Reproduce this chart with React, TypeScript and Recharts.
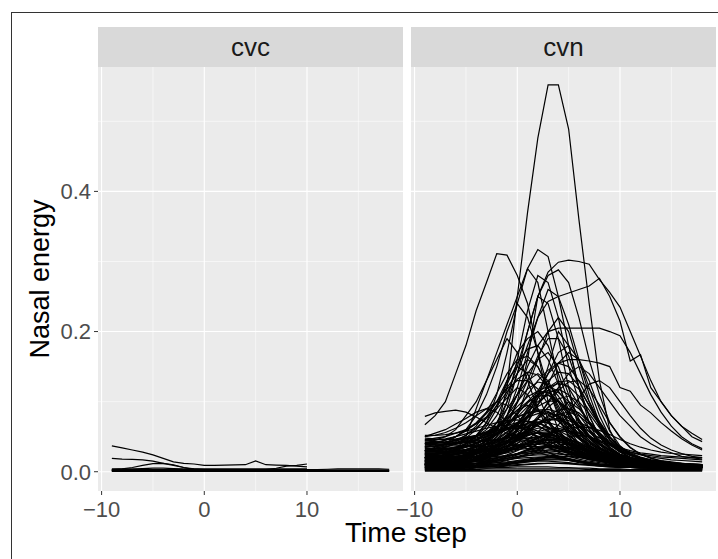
import { LineChart, Line, XAxis, YAxis, CartesianGrid } from 'recharts';

const steps = [-9, -8, -7, -6, -5, -4, -3, -2, -1, 0, 1, 2, 3, 4, 5, 6, 7, 8, 9, 10, 11, 12, 13, 14, 15, 16, 17, 18];
const xTicks = [-10, 0, 10];
const xMinor = [-5, 5, 15];
const yTicks = [0, 0.2, 0.4];
const yMinor = [0.1, 0.3, 0.5];
const panels = ['cvc', 'cvn'];

// cvc: a few lines stop at step 10
const cvcLines: (number | null)[][] = [
  [0.037, 0.034, 0.031, 0.028, 0.024, 0.019, 0.014, 0.012, 0.011, 0.009, 0.009, 0.0095, 0.0097, 0.01, 0.0155, 0.01, 0.0095, 0.009, 0.008, 0.007, null, null, null, null, null, null, null, null],
  [0.019, 0.018, 0.0175, 0.017, 0.015, 0.012, 0.009, 0.006, 0.004, 0.003, 0.003, 0.002, 0.002, 0.002, 0.002, 0.002, 0.002, 0.002, 0.002, 0.002, null, null, null, null, null, null, null, null],
  [0.003, 0.004, 0.006, 0.009, 0.0115, 0.012, 0.01, 0.006, 0.003, 0.002, 0.002, 0.002, 0.002, 0.002, 0.002, 0.002, 0.002, 0.002, 0.002, 0.002, null, null, null, null, null, null, null, null],
  [0.002, 0.002, 0.002, 0.002, 0.002, 0.002, 0.002, 0.002, 0.002, 0.002, 0.002, 0.002, 0.002, 0.002, 0.002, 0.003, 0.005, 0.008, 0.009, 0.011, null, null, null, null, null, null, null, null],
  [0.003, 0.003, 0.003, 0.003, 0.003, 0.003, 0.003, 0.003, 0.003, 0.003, 0.003, 0.003, 0.003, 0.003, 0.003, 0.003, 0.003, 0.003, 0.003, 0.003, 0.003, 0.0035, 0.004, 0.004, 0.004, 0.004, 0.004, 0.0035],
  [0.001, 0.001, 0.001, 0.001, 0.001, 0.001, 0.001, 0.001, 0.001, 0.001, 0.001, 0.001, 0.001, 0.001, 0.001, 0.001, 0.001, 0.001, 0.001, 0.001, 0.001, 0.001, 0.001, 0.001, 0.001, 0.001, 0.001, 0.001],
  [0.002, 0.002, 0.002, 0.002, 0.002, 0.002, 0.002, 0.002, 0.002, 0.002, 0.002, 0.002, 0.002, 0.002, 0.002, 0.002, 0.002, 0.002, 0.002, 0.002, 0.002, 0.002, 0.002, 0.002, 0.002, 0.002, 0.002, 0.002],
  [0.0005, 0.0005, 0.0005, 0.0005, 0.0005, 0.0005, 0.0005, 0.0005, 0.0005, 0.0005, 0.0005, 0.0005, 0.0005, 0.0005, 0.0005, 0.0005, 0.0005, 0.0005, 0.0005, 0.0005, 0.0005, 0.0005, 0.0005, 0.0005, 0.0005, 0.0005, 0.0005, 0.0005],
  [0.0015, 0.0015, 0.0015, 0.0015, 0.0015, 0.0015, 0.0015, 0.0015, 0.0015, 0.0015, 0.0015, 0.0015, 0.0015, 0.0015, 0.0015, 0.0015, 0.0015, 0.0015, 0.0015, 0.0015, 0.0015, 0.0015, 0.0015, 0.0015, 0.0015, 0.0015, 0.0015, 0.0015],
  [0.0025, 0.0025, 0.0025, 0.0025, 0.0025, 0.0025, 0.0025, 0.0025, 0.0025, 0.0025, 0.0025, 0.0025, 0.0025, 0.0025, 0.0025, 0.0025, 0.0025, 0.0025, 0.0025, 0.0025, 0.0025, 0.0025, 0.0025, 0.0025, 0.0025, 0.0025, 0.0025, 0.0025],
  [0.004, 0.004, 0.004, 0.0045, 0.005, 0.005, 0.0045, 0.004, 0.004, 0.004, 0.004, 0.004, 0.004, 0.004, 0.004, 0.004, 0.004, 0.004, 0.004, 0.004, null, null, null, null, null, null, null, null],
];

const cvnLines: number[][] = [
  [0.02, 0.02, 0.025, 0.025, 0.03, 0.035, 0.04, 0.06, 0.12, 0.25, 0.37, 0.476, 0.552, 0.552, 0.489, 0.36, 0.24, 0.13, 0.06, 0.03, 0.02, 0.015, 0.012, 0.01, 0.01, 0.008, 0.008, 0.006],
  [0.067, 0.08, 0.1, 0.14, 0.18, 0.23, 0.27, 0.311, 0.309, 0.28, 0.24, 0.17, 0.1, 0.06, 0.04, 0.03, 0.025, 0.02, 0.018, 0.015, 0.012, 0.01, 0.01, 0.008, 0.008, 0.007, 0.006, 0.006],
  [0.02, 0.02, 0.025, 0.03, 0.05, 0.09, 0.13, 0.17, 0.21, 0.25, 0.29, 0.317, 0.307, 0.25, 0.18, 0.12, 0.08, 0.05, 0.035, 0.025, 0.02, 0.018, 0.015, 0.012, 0.01, 0.01, 0.008, 0.008],
  [0.03, 0.03, 0.035, 0.04, 0.045, 0.05, 0.06, 0.08, 0.11, 0.15, 0.2, 0.25, 0.285, 0.299, 0.302, 0.3, 0.296, 0.274, 0.256, 0.235, 0.2, 0.165, 0.13, 0.1, 0.08, 0.065, 0.05, 0.043],
  [0.01, 0.012, 0.015, 0.02, 0.025, 0.03, 0.04, 0.06, 0.09, 0.14, 0.2, 0.25, 0.28, 0.288, 0.27, 0.22, 0.16, 0.11, 0.07, 0.05, 0.035, 0.025, 0.02, 0.015, 0.012, 0.01, 0.01, 0.008],
  [0.02, 0.02, 0.025, 0.03, 0.035, 0.04, 0.05, 0.07, 0.1, 0.14, 0.18, 0.22, 0.243, 0.25, 0.255, 0.26, 0.265, 0.276, 0.25, 0.215, 0.158, 0.167, 0.12, 0.1, 0.08, 0.065, 0.055, 0.046],
  [0.01, 0.012, 0.015, 0.02, 0.025, 0.03, 0.04, 0.06, 0.08, 0.11, 0.15, 0.18, 0.2, 0.205, 0.205, 0.205, 0.205, 0.205, 0.2, 0.194, 0.17, 0.14, 0.11, 0.085, 0.065, 0.05, 0.04, 0.033],
  [0.015, 0.015, 0.02, 0.02, 0.025, 0.03, 0.04, 0.06, 0.1, 0.16, 0.23, 0.28, 0.27, 0.22, 0.15, 0.1, 0.06, 0.04, 0.03, 0.02, 0.015, 0.012, 0.01, 0.01, 0.008, 0.008, 0.006, 0.006],
  [0.02, 0.02, 0.025, 0.03, 0.04, 0.05, 0.07, 0.11, 0.17, 0.24, 0.29, 0.27, 0.2, 0.13, 0.08, 0.05, 0.035, 0.025, 0.02, 0.015, 0.012, 0.01, 0.01, 0.008, 0.008, 0.007, 0.006, 0.006],
  [0.01, 0.01, 0.012, 0.015, 0.02, 0.025, 0.035, 0.05, 0.08, 0.12, 0.17, 0.22, 0.26, 0.25, 0.21, 0.16, 0.11, 0.07, 0.045, 0.03, 0.02, 0.015, 0.012, 0.01, 0.01, 0.008, 0.007, 0.006],
  [0.03, 0.035, 0.04, 0.05, 0.06, 0.08, 0.11, 0.15, 0.2, 0.24, 0.22, 0.17, 0.12, 0.08, 0.05, 0.035, 0.025, 0.02, 0.015, 0.012, 0.01, 0.01, 0.008, 0.008, 0.007, 0.006, 0.006, 0.005],
  [0.008, 0.008, 0.01, 0.012, 0.015, 0.02, 0.025, 0.035, 0.05, 0.08, 0.12, 0.16, 0.2, 0.22, 0.2, 0.15, 0.1, 0.065, 0.04, 0.028, 0.02, 0.015, 0.012, 0.01, 0.01, 0.008, 0.008, 0.007],
  [0.025, 0.025, 0.03, 0.035, 0.04, 0.05, 0.065, 0.09, 0.13, 0.17, 0.19, 0.2, 0.18, 0.14, 0.1, 0.07, 0.05, 0.035, 0.025, 0.02, 0.015, 0.012, 0.01, 0.01, 0.008, 0.008, 0.007, 0.007],
  [0.04, 0.045, 0.05, 0.06, 0.08, 0.1, 0.13, 0.16, 0.19, 0.17, 0.13, 0.09, 0.06, 0.04, 0.03, 0.022, 0.018, 0.015, 0.012, 0.01, 0.01, 0.008, 0.008, 0.007, 0.007, 0.006, 0.006, 0.005],
  [0.01, 0.01, 0.012, 0.012, 0.015, 0.018, 0.022, 0.03, 0.04, 0.06, 0.08, 0.11, 0.14, 0.17, 0.18, 0.16, 0.12, 0.08, 0.05, 0.035, 0.025, 0.02, 0.015, 0.012, 0.01, 0.01, 0.008, 0.008],
  [0.02, 0.02, 0.022, 0.025, 0.03, 0.035, 0.045, 0.06, 0.08, 0.11, 0.14, 0.16, 0.17, 0.15, 0.11, 0.075, 0.05, 0.035, 0.025, 0.02, 0.015, 0.012, 0.01, 0.01, 0.009, 0.008, 0.007, 0.007],
  [0.035, 0.04, 0.045, 0.05, 0.06, 0.07, 0.085, 0.1, 0.12, 0.14, 0.16, 0.15, 0.12, 0.09, 0.06, 0.04, 0.03, 0.022, 0.018, 0.015, 0.012, 0.01, 0.01, 0.009, 0.008, 0.008, 0.007, 0.007],
  [0.01, 0.01, 0.01, 0.012, 0.014, 0.016, 0.02, 0.025, 0.03, 0.04, 0.055, 0.075, 0.1, 0.12, 0.14, 0.15, 0.14, 0.12, 0.1, 0.08, 0.065, 0.05, 0.04, 0.032, 0.027, 0.022, 0.02, 0.018],
  [0.028, 0.03, 0.032, 0.035, 0.04, 0.045, 0.055, 0.07, 0.09, 0.11, 0.13, 0.14, 0.13, 0.1, 0.07, 0.05, 0.035, 0.025, 0.02, 0.016, 0.013, 0.011, 0.01, 0.009, 0.008, 0.008, 0.007, 0.006],
  [0.015, 0.016, 0.018, 0.02, 0.022, 0.025, 0.03, 0.038, 0.05, 0.065, 0.085, 0.105, 0.12, 0.13, 0.12, 0.095, 0.07, 0.05, 0.035, 0.025, 0.02, 0.016, 0.013, 0.011, 0.01, 0.009, 0.008, 0.008],
  [0.045, 0.048, 0.05, 0.055, 0.06, 0.068, 0.078, 0.09, 0.105, 0.12, 0.11, 0.09, 0.07, 0.05, 0.035, 0.028, 0.022, 0.018, 0.015, 0.013, 0.011, 0.01, 0.009, 0.008, 0.008, 0.007, 0.007, 0.006],
  [0.02, 0.02, 0.022, 0.024, 0.027, 0.03, 0.036, 0.045, 0.056, 0.07, 0.085, 0.1, 0.11, 0.1, 0.08, 0.06, 0.045, 0.033, 0.025, 0.02, 0.016, 0.013, 0.011, 0.01, 0.009, 0.008, 0.008, 0.007],
  [0.012, 0.012, 0.013, 0.014, 0.016, 0.018, 0.021, 0.025, 0.03, 0.037, 0.046, 0.057, 0.07, 0.085, 0.1, 0.09, 0.072, 0.055, 0.04, 0.03, 0.024, 0.019, 0.016, 0.014, 0.012, 0.011, 0.01, 0.009],
  [0.03, 0.03, 0.032, 0.035, 0.04, 0.046, 0.054, 0.064, 0.076, 0.088, 0.095, 0.088, 0.072, 0.055, 0.04, 0.03, 0.023, 0.018, 0.015, 0.013, 0.011, 0.01, 0.009, 0.008, 0.008, 0.007, 0.006, 0.006],
  [0.05, 0.055, 0.06, 0.068, 0.076, 0.085, 0.09, 0.085, 0.072, 0.058, 0.045, 0.035, 0.028, 0.022, 0.018, 0.015, 0.013, 0.011, 0.01, 0.009, 0.008, 0.008, 0.007, 0.007, 0.006, 0.006, 0.005, 0.005],
  [0.01, 0.011, 0.012, 0.014, 0.017, 0.021, 0.026, 0.033, 0.042, 0.053, 0.065, 0.076, 0.085, 0.08, 0.066, 0.05, 0.037, 0.028, 0.021, 0.017, 0.014, 0.012, 0.01, 0.009, 0.008, 0.008, 0.007, 0.007],
  [0.079, 0.084, 0.086, 0.088, 0.085, 0.078, 0.07, 0.062, 0.055, 0.05, 0.046, 0.042, 0.038, 0.033, 0.028, 0.024, 0.02, 0.017, 0.015, 0.013, 0.012, 0.011, 0.01, 0.009, 0.009, 0.008, 0.008, 0.007],
  [0.02, 0.021, 0.022, 0.024, 0.027, 0.03, 0.035, 0.042, 0.05, 0.06, 0.069, 0.075, 0.07, 0.058, 0.045, 0.034, 0.026, 0.02, 0.016, 0.013, 0.011, 0.01, 0.009, 0.008, 0.008, 0.007, 0.007, 0.006],
  [0.008, 0.008, 0.009, 0.01, 0.011, 0.012, 0.014, 0.017, 0.021, 0.026, 0.032, 0.04, 0.048, 0.057, 0.065, 0.07, 0.064, 0.052, 0.04, 0.03, 0.024, 0.02, 0.017, 0.015, 0.013, 0.012, 0.011, 0.01],
  [0.04, 0.041, 0.042, 0.044, 0.047, 0.051, 0.055, 0.059, 0.063, 0.065, 0.062, 0.055, 0.046, 0.037, 0.03, 0.024, 0.02, 0.017, 0.015, 0.013, 0.012, 0.011, 0.01, 0.009, 0.009, 0.008, 0.008, 0.007],
  [0.015, 0.015, 0.016, 0.017, 0.019, 0.021, 0.024, 0.028, 0.032, 0.037, 0.043, 0.049, 0.055, 0.06, 0.056, 0.047, 0.037, 0.029, 0.023, 0.019, 0.016, 0.014, 0.012, 0.011, 0.01, 0.009, 0.009, 0.008],
  [0.025, 0.026, 0.027, 0.029, 0.032, 0.035, 0.039, 0.043, 0.048, 0.052, 0.055, 0.051, 0.044, 0.036, 0.029, 0.023, 0.019, 0.016, 0.014, 0.012, 0.011, 0.01, 0.009, 0.008, 0.008, 0.007, 0.007, 0.006],
  [0.005, 0.006, 0.007, 0.008, 0.01, 0.012, 0.015, 0.019, 0.024, 0.03, 0.037, 0.044, 0.05, 0.047, 0.039, 0.031, 0.024, 0.018, 0.014, 0.011, 0.009, 0.008, 0.007, 0.006, 0.006, 0.005, 0.005, 0.005],
  [0.032, 0.034, 0.036, 0.039, 0.042, 0.044, 0.045, 0.045, 0.042, 0.038, 0.033, 0.028, 0.023, 0.019, 0.016, 0.013, 0.011, 0.01, 0.009, 0.008, 0.007, 0.007, 0.006, 0.006, 0.005, 0.005, 0.005, 0.004],
  [0.01, 0.01, 0.011, 0.012, 0.013, 0.015, 0.017, 0.019, 0.022, 0.025, 0.028, 0.031, 0.035, 0.038, 0.04, 0.037, 0.031, 0.025, 0.02, 0.016, 0.013, 0.011, 0.01, 0.009, 0.008, 0.008, 0.007, 0.007],
  [0.018, 0.019, 0.02, 0.022, 0.024, 0.027, 0.03, 0.033, 0.036, 0.038, 0.036, 0.032, 0.027, 0.022, 0.018, 0.015, 0.012, 0.01, 0.009, 0.008, 0.007, 0.006, 0.006, 0.005, 0.005, 0.005, 0.004, 0.004],
  [0.028, 0.028, 0.027, 0.027, 0.027, 0.028, 0.029, 0.03, 0.031, 0.032, 0.033, 0.034, 0.035, 0.033, 0.03, 0.026, 0.022, 0.019, 0.016, 0.014, 0.013, 0.012, 0.011, 0.011, 0.01, 0.01, 0.01, 0.009],
  [0.022, 0.022, 0.021, 0.021, 0.02, 0.02, 0.021, 0.022, 0.023, 0.025, 0.026, 0.027, 0.027, 0.026, 0.024, 0.021, 0.018, 0.016, 0.014, 0.013, 0.012, 0.012, 0.011, 0.011, 0.011, 0.01, 0.01, 0.01],
  [0.015, 0.015, 0.014, 0.014, 0.014, 0.015, 0.016, 0.017, 0.019, 0.021, 0.023, 0.024, 0.024, 0.022, 0.019, 0.016, 0.013, 0.011, 0.009, 0.008, 0.007, 0.006, 0.006, 0.005, 0.005, 0.005, 0.005, 0.004],
  [0.008, 0.008, 0.008, 0.008, 0.009, 0.009, 0.01, 0.011, 0.012, 0.013, 0.014, 0.015, 0.015, 0.014, 0.013, 0.011, 0.01, 0.008, 0.007, 0.006, 0.006, 0.005, 0.005, 0.004, 0.004, 0.004, 0.004, 0.004],
  [0.004, 0.004, 0.004, 0.004, 0.004, 0.005, 0.005, 0.006, 0.006, 0.007, 0.007, 0.007, 0.007, 0.006, 0.006, 0.005, 0.005, 0.004, 0.004, 0.004, 0.003, 0.003, 0.003, 0.003, 0.003, 0.003, 0.003, 0.003],
  [0.002, 0.002, 0.002, 0.002, 0.002, 0.002, 0.002, 0.002, 0.002, 0.002, 0.002, 0.002, 0.002, 0.002, 0.002, 0.002, 0.002, 0.002, 0.002, 0.002, 0.002, 0.002, 0.002, 0.002, 0.002, 0.002, 0.002, 0.002],
  [0.035, 0.036, 0.038, 0.04, 0.043, 0.046, 0.05, 0.056, 0.062, 0.068, 0.072, 0.07, 0.062, 0.052, 0.042, 0.034, 0.027, 0.022, 0.018, 0.015, 0.013, 0.012, 0.011, 0.01, 0.009, 0.009, 0.008, 0.008],
  [0.012, 0.012, 0.013, 0.015, 0.018, 0.022, 0.028, 0.036, 0.047, 0.061, 0.078, 0.096, 0.112, 0.118, 0.11, 0.092, 0.07, 0.052, 0.038, 0.028, 0.021, 0.017, 0.014, 0.012, 0.011, 0.01, 0.009, 0.009],
  [0.01, 0.01, 0.011, 0.012, 0.014, 0.016, 0.02, 0.025, 0.034, 0.048, 0.07, 0.105, 0.15, 0.2, 0.18, 0.12, 0.07, 0.04, 0.025, 0.018, 0.014, 0.012, 0.01, 0.009, 0.008, 0.008, 0.007, 0.007],
  [0.03, 0.032, 0.035, 0.04, 0.048, 0.06, 0.078, 0.1, 0.13, 0.15, 0.14, 0.11, 0.075, 0.05, 0.035, 0.026, 0.02, 0.016, 0.013, 0.011, 0.01, 0.009, 0.008, 0.008, 0.007, 0.007, 0.006, 0.006],
  [0.012, 0.012, 0.014, 0.016, 0.02, 0.025, 0.033, 0.045, 0.065, 0.1, 0.16, 0.25, 0.24, 0.19, 0.12, 0.06, 0.03, 0.02, 0.015, 0.012, 0.01, 0.009, 0.008, 0.008, 0.007, 0.007, 0.006, 0.006],
  [0.006, 0.006, 0.007, 0.008, 0.009, 0.01, 0.012, 0.015, 0.019, 0.024, 0.031, 0.04, 0.052, 0.067, 0.085, 0.105, 0.125, 0.13, 0.12, 0.1, 0.08, 0.062, 0.048, 0.038, 0.031, 0.026, 0.022, 0.02],
  [0.015, 0.015, 0.017, 0.02, 0.024, 0.03, 0.038, 0.05, 0.065, 0.085, 0.11, 0.13, 0.145, 0.155, 0.16, 0.16, 0.158, 0.155, 0.15, 0.12, 0.115, 0.095, 0.084, 0.07, 0.058, 0.047, 0.038, 0.031],
  [0.05, 0.052, 0.056, 0.062, 0.07, 0.08, 0.09, 0.1, 0.095, 0.08, 0.062, 0.047, 0.036, 0.028, 0.022, 0.018, 0.015, 0.013, 0.011, 0.01, 0.009, 0.008, 0.008, 0.007, 0.007, 0.006, 0.006, 0.006],
  [0.025, 0.025, 0.026, 0.028, 0.031, 0.036, 0.043, 0.053, 0.066, 0.082, 0.1, 0.115, 0.122, 0.115, 0.095, 0.072, 0.052, 0.038, 0.028, 0.022, 0.018, 0.015, 0.013, 0.012, 0.011, 0.01, 0.009, 0.009],
  [0.012, 0.012, 0.011, 0.011, 0.011, 0.012, 0.013, 0.015, 0.017, 0.019, 0.02, 0.021, 0.021, 0.02, 0.018, 0.015, 0.013, 0.011, 0.01, 0.009, 0.008, 0.008, 0.007, 0.007, 0.007, 0.006, 0.006, 0.006],
  [0.006, 0.006, 0.006, 0.007, 0.007, 0.008, 0.009, 0.01, 0.011, 0.013, 0.016, 0.018, 0.02, 0.019, 0.017, 0.014, 0.012, 0.01, 0.008, 0.007, 0.006, 0.006, 0.005, 0.005, 0.005, 0.004, 0.004, 0.004],
  [0.018, 0.018, 0.018, 0.019, 0.02, 0.022, 0.025, 0.028, 0.031, 0.034, 0.036, 0.036, 0.034, 0.03, 0.026, 0.022, 0.018, 0.015, 0.013, 0.011, 0.01, 0.009, 0.008, 0.008, 0.007, 0.007, 0.007, 0.006],
  [0.003, 0.003, 0.003, 0.003, 0.003, 0.003, 0.004, 0.004, 0.004, 0.004, 0.004, 0.004, 0.004, 0.004, 0.004, 0.004, 0.003, 0.003, 0.003, 0.003, 0.002, 0.002, 0.002, 0.002, 0.002, 0.002, 0.002, 0.002],
  [0.001, 0.001, 0.001, 0.001, 0.001, 0.001, 0.001, 0.001, 0.001, 0.001, 0.001, 0.001, 0.001, 0.001, 0.001, 0.001, 0.001, 0.001, 0.001, 0.001, 0.001, 0.001, 0.001, 0.001, 0.001, 0.001, 0.001, 0.001],
  [0.042, 0.042, 0.043, 0.045, 0.048, 0.052, 0.057, 0.063, 0.07, 0.078, 0.084, 0.086, 0.082, 0.072, 0.06, 0.048, 0.038, 0.03, 0.024, 0.02, 0.017, 0.015, 0.013, 0.012, 0.011, 0.01, 0.01, 0.009],
  [0.009, 0.009, 0.01, 0.011, 0.013, 0.016, 0.02, 0.026, 0.034, 0.044, 0.056, 0.068, 0.078, 0.082, 0.078, 0.066, 0.052, 0.04, 0.03, 0.023, 0.018, 0.015, 0.013, 0.011, 0.01, 0.009, 0.009, 0.008],
  [0.048, 0.047, 0.046, 0.046, 0.047, 0.05, 0.054, 0.058, 0.061, 0.062, 0.06, 0.055, 0.048, 0.04, 0.033, 0.027, 0.022, 0.018, 0.015, 0.013, 0.012, 0.011, 0.01, 0.01, 0.009, 0.009, 0.008, 0.008],
  [0.038, 0.038, 0.039, 0.041, 0.044, 0.048, 0.053, 0.058, 0.062, 0.064, 0.063, 0.058, 0.05, 0.041, 0.033, 0.026, 0.021, 0.017, 0.014, 0.012, 0.011, 0.01, 0.009, 0.009, 0.008, 0.008, 0.008, 0.007],
  [0.026, 0.027, 0.029, 0.032, 0.036, 0.041, 0.047, 0.054, 0.06, 0.065, 0.067, 0.065, 0.058, 0.048, 0.038, 0.03, 0.024, 0.019, 0.016, 0.014, 0.012, 0.011, 0.01, 0.009, 0.009, 0.008, 0.008, 0.007],
  [0.016, 0.017, 0.018, 0.02, 0.023, 0.027, 0.032, 0.038, 0.045, 0.052, 0.058, 0.062, 0.063, 0.059, 0.051, 0.042, 0.033, 0.026, 0.021, 0.017, 0.014, 0.012, 0.011, 0.01, 0.009, 0.008, 0.008, 0.007],
  [0.011, 0.011, 0.012, 0.013, 0.015, 0.017, 0.02, 0.024, 0.029, 0.034, 0.039, 0.043, 0.046, 0.047, 0.045, 0.04, 0.034, 0.028, 0.023, 0.019, 0.016, 0.014, 0.012, 0.011, 0.01, 0.01, 0.009, 0.009],
  [0.033, 0.033, 0.033, 0.034, 0.035, 0.037, 0.039, 0.041, 0.043, 0.044, 0.044, 0.042, 0.038, 0.033, 0.028, 0.023, 0.019, 0.016, 0.014, 0.012, 0.011, 0.01, 0.009, 0.009, 0.008, 0.008, 0.008, 0.007],
  [0.044, 0.045, 0.047, 0.05, 0.054, 0.058, 0.062, 0.065, 0.066, 0.064, 0.058, 0.05, 0.041, 0.033, 0.026, 0.021, 0.017, 0.015, 0.013, 0.012, 0.011, 0.01, 0.009, 0.009, 0.008, 0.008, 0.007, 0.007],
  [0.02, 0.02, 0.021, 0.022, 0.024, 0.027, 0.031, 0.036, 0.042, 0.049, 0.057, 0.066, 0.075, 0.082, 0.085, 0.08, 0.068, 0.054, 0.041, 0.031, 0.024, 0.019, 0.016, 0.014, 0.012, 0.011, 0.01, 0.01],
  [0.007, 0.007, 0.008, 0.009, 0.01, 0.012, 0.014, 0.017, 0.021, 0.026, 0.031, 0.035, 0.037, 0.036, 0.032, 0.027, 0.022, 0.018, 0.015, 0.013, 0.011, 0.01, 0.009, 0.008, 0.008, 0.007, 0.007, 0.006],
  [0.03, 0.03, 0.031, 0.033, 0.036, 0.04, 0.046, 0.053, 0.061, 0.07, 0.078, 0.083, 0.084, 0.079, 0.068, 0.055, 0.042, 0.032, 0.025, 0.02, 0.017, 0.015, 0.013, 0.012, 0.011, 0.011, 0.01, 0.01],
  [0.013, 0.013, 0.013, 0.014, 0.015, 0.016, 0.018, 0.02, 0.022, 0.025, 0.028, 0.03, 0.031, 0.03, 0.028, 0.025, 0.021, 0.018, 0.015, 0.013, 0.012, 0.011, 0.01, 0.009, 0.009, 0.008, 0.008, 0.008],
  [0.024, 0.024, 0.024, 0.025, 0.026, 0.028, 0.031, 0.035, 0.04, 0.046, 0.052, 0.056, 0.057, 0.054, 0.047, 0.039, 0.031, 0.025, 0.02, 0.017, 0.015, 0.013, 0.012, 0.011, 0.01, 0.01, 0.009, 0.009],
  [0.005, 0.005, 0.005, 0.006, 0.006, 0.007, 0.008, 0.009, 0.011, 0.013, 0.015, 0.017, 0.018, 0.018, 0.017, 0.015, 0.013, 0.011, 0.01, 0.009, 0.008, 0.007, 0.007, 0.006, 0.006, 0.006, 0.005, 0.005],
  [0.036, 0.037, 0.039, 0.042, 0.046, 0.051, 0.057, 0.064, 0.071, 0.078, 0.084, 0.088, 0.089, 0.085, 0.076, 0.064, 0.051, 0.04, 0.031, 0.024, 0.019, 0.016, 0.014, 0.012, 0.011, 0.01, 0.01, 0.009],
  [0.017, 0.017, 0.018, 0.019, 0.021, 0.023, 0.026, 0.029, 0.033, 0.037, 0.041, 0.044, 0.045, 0.043, 0.039, 0.033, 0.027, 0.022, 0.018, 0.015, 0.013, 0.012, 0.011, 0.01, 0.009, 0.009, 0.008, 0.008],
  [0.009, 0.009, 0.009, 0.01, 0.01, 0.011, 0.012, 0.013, 0.014, 0.016, 0.018, 0.02, 0.022, 0.024, 0.025, 0.024, 0.021, 0.018, 0.015, 0.013, 0.011, 0.01, 0.009, 0.008, 0.008, 0.007, 0.007, 0.007],
  [0.028, 0.029, 0.031, 0.034, 0.038, 0.044, 0.052, 0.062, 0.074, 0.088, 0.1, 0.108, 0.109, 0.1, 0.084, 0.065, 0.048, 0.035, 0.026, 0.02, 0.016, 0.014, 0.012, 0.011, 0.01, 0.009, 0.009, 0.008],
  [0.014, 0.014, 0.015, 0.016, 0.018, 0.021, 0.025, 0.03, 0.037, 0.046, 0.057, 0.069, 0.08, 0.088, 0.09, 0.084, 0.071, 0.056, 0.042, 0.031, 0.024, 0.019, 0.016, 0.014, 0.012, 0.011, 0.01, 0.01],
  [0.052, 0.052, 0.053, 0.055, 0.058, 0.062, 0.066, 0.07, 0.073, 0.074, 0.072, 0.066, 0.057, 0.047, 0.038, 0.03, 0.024, 0.02, 0.017, 0.015, 0.013, 0.012, 0.011, 0.01, 0.01, 0.009, 0.009, 0.008],
  [0.004, 0.004, 0.004, 0.005, 0.005, 0.006, 0.007, 0.008, 0.009, 0.01, 0.011, 0.012, 0.012, 0.012, 0.011, 0.01, 0.009, 0.008, 0.007, 0.006, 0.006, 0.005, 0.005, 0.005, 0.004, 0.004, 0.004, 0.004],
  [0.02, 0.021, 0.023, 0.026, 0.03, 0.036, 0.044, 0.055, 0.068, 0.083, 0.098, 0.11, 0.116, 0.113, 0.1, 0.081, 0.061, 0.045, 0.033, 0.025, 0.02, 0.016, 0.014, 0.012, 0.011, 0.01, 0.01, 0.009],
  [0.01, 0.01, 0.011, 0.012, 0.014, 0.017, 0.021, 0.027, 0.035, 0.046, 0.06, 0.076, 0.092, 0.104, 0.108, 0.1, 0.083, 0.063, 0.046, 0.033, 0.025, 0.019, 0.016, 0.013, 0.012, 0.011, 0.01, 0.009],
  [0.023, 0.023, 0.024, 0.026, 0.029, 0.033, 0.039, 0.047, 0.057, 0.069, 0.08, 0.087, 0.086, 0.077, 0.063, 0.049, 0.037, 0.028, 0.022, 0.018, 0.015, 0.013, 0.012, 0.011, 0.01, 0.009, 0.009, 0.008],
  [0.006, 0.006, 0.006, 0.007, 0.007, 0.008, 0.009, 0.01, 0.012, 0.014, 0.016, 0.018, 0.02, 0.021, 0.022, 0.021, 0.019, 0.017, 0.015, 0.013, 0.012, 0.011, 0.01, 0.01, 0.009, 0.009, 0.009, 0.009],
  [0.031, 0.031, 0.032, 0.034, 0.037, 0.041, 0.047, 0.055, 0.065, 0.078, 0.093, 0.108, 0.12, 0.126, 0.122, 0.108, 0.088, 0.067, 0.049, 0.036, 0.027, 0.021, 0.017, 0.015, 0.013, 0.012, 0.011, 0.01],
  [0.015, 0.016, 0.018, 0.021, 0.025, 0.031, 0.04, 0.053, 0.072, 0.098, 0.13, 0.165, 0.19, 0.19, 0.165, 0.12, 0.08, 0.05, 0.032, 0.022, 0.017, 0.014, 0.012, 0.01, 0.009, 0.009, 0.008, 0.008],
  [0.022, 0.024, 0.027, 0.032, 0.04, 0.052, 0.07, 0.095, 0.125, 0.155, 0.175, 0.18, 0.16, 0.125, 0.088, 0.058, 0.038, 0.026, 0.019, 0.015, 0.012, 0.011, 0.01, 0.009, 0.008, 0.008, 0.007, 0.007],
  [0.008, 0.008, 0.009, 0.01, 0.012, 0.015, 0.019, 0.025, 0.035, 0.05, 0.07, 0.095, 0.125, 0.155, 0.17, 0.16, 0.13, 0.09, 0.058, 0.037, 0.025, 0.018, 0.014, 0.012, 0.01, 0.009, 0.009, 0.008],
  [0.03, 0.033, 0.037, 0.043, 0.052, 0.065, 0.085, 0.112, 0.14, 0.16, 0.165, 0.15, 0.12, 0.085, 0.056, 0.037, 0.026, 0.019, 0.015, 0.013, 0.011, 0.01, 0.009, 0.009, 0.008, 0.008, 0.007, 0.007],
  [0.012, 0.012, 0.013, 0.015, 0.018, 0.022, 0.028, 0.037, 0.05, 0.068, 0.09, 0.115, 0.14, 0.155, 0.15, 0.13, 0.1, 0.072, 0.05, 0.035, 0.026, 0.02, 0.016, 0.014, 0.012, 0.011, 0.01, 0.01],
  [0.044, 0.043, 0.042, 0.041, 0.041, 0.042, 0.044, 0.046, 0.048, 0.049, 0.048, 0.045, 0.04, 0.034, 0.028, 0.023, 0.019, 0.016, 0.014, 0.013, 0.012, 0.011, 0.011, 0.01, 0.01, 0.009, 0.009, 0.009],
  [0.037, 0.036, 0.035, 0.035, 0.036, 0.038, 0.041, 0.045, 0.05, 0.054, 0.056, 0.055, 0.051, 0.044, 0.036, 0.029, 0.023, 0.019, 0.016, 0.014, 0.013, 0.012, 0.011, 0.01, 0.01, 0.009, 0.009, 0.008],
  [0.03, 0.029, 0.029, 0.029, 0.03, 0.032, 0.035, 0.039, 0.044, 0.049, 0.053, 0.055, 0.054, 0.049, 0.041, 0.033, 0.026, 0.021, 0.017, 0.015, 0.013, 0.012, 0.011, 0.01, 0.009, 0.009, 0.008, 0.008],
  [0.026, 0.026, 0.026, 0.027, 0.028, 0.03, 0.033, 0.037, 0.041, 0.045, 0.048, 0.05, 0.05, 0.047, 0.042, 0.035, 0.028, 0.022, 0.018, 0.015, 0.013, 0.011, 0.01, 0.009, 0.009, 0.008, 0.008, 0.007],
  [0.021, 0.021, 0.021, 0.022, 0.023, 0.025, 0.028, 0.032, 0.036, 0.041, 0.046, 0.05, 0.052, 0.051, 0.047, 0.04, 0.033, 0.026, 0.021, 0.017, 0.014, 0.012, 0.011, 0.01, 0.009, 0.009, 0.008, 0.008],
  [0.017, 0.017, 0.017, 0.018, 0.019, 0.021, 0.023, 0.026, 0.029, 0.033, 0.037, 0.04, 0.042, 0.042, 0.04, 0.036, 0.031, 0.026, 0.021, 0.017, 0.015, 0.013, 0.011, 0.01, 0.01, 0.009, 0.009, 0.008],
  [0.013, 0.013, 0.013, 0.014, 0.015, 0.016, 0.018, 0.02, 0.023, 0.026, 0.03, 0.033, 0.035, 0.036, 0.035, 0.032, 0.027, 0.022, 0.018, 0.015, 0.013, 0.011, 0.01, 0.009, 0.008, 0.008, 0.007, 0.007],
  [0.01, 0.01, 0.01, 0.011, 0.011, 0.012, 0.013, 0.015, 0.017, 0.02, 0.023, 0.026, 0.028, 0.029, 0.028, 0.026, 0.022, 0.019, 0.016, 0.013, 0.011, 0.01, 0.009, 0.008, 0.008, 0.007, 0.007, 0.007],
  [0.007, 0.007, 0.007, 0.008, 0.008, 0.009, 0.01, 0.011, 0.013, 0.015, 0.017, 0.019, 0.021, 0.022, 0.022, 0.02, 0.018, 0.015, 0.013, 0.011, 0.009, 0.008, 0.008, 0.007, 0.007, 0.006, 0.006, 0.006],
  [0.003, 0.003, 0.004, 0.004, 0.005, 0.006, 0.007, 0.008, 0.01, 0.012, 0.014, 0.016, 0.017, 0.017, 0.016, 0.014, 0.012, 0.01, 0.008, 0.007, 0.006, 0.005, 0.005, 0.004, 0.004, 0.004, 0.003, 0.003],
  [0.041, 0.04, 0.039, 0.038, 0.037, 0.036, 0.036, 0.036, 0.037, 0.038, 0.039, 0.039, 0.037, 0.034, 0.029, 0.024, 0.02, 0.017, 0.015, 0.014, 0.013, 0.012, 0.011, 0.011, 0.01, 0.01, 0.009, 0.009],
  [0.034, 0.033, 0.032, 0.031, 0.03, 0.03, 0.03, 0.031, 0.033, 0.036, 0.04, 0.044, 0.046, 0.045, 0.041, 0.035, 0.029, 0.024, 0.02, 0.017, 0.015, 0.014, 0.013, 0.012, 0.011, 0.011, 0.01, 0.01],
  [0.024, 0.023, 0.022, 0.021, 0.021, 0.021, 0.022, 0.024, 0.027, 0.031, 0.036, 0.041, 0.045, 0.047, 0.046, 0.042, 0.036, 0.03, 0.024, 0.02, 0.017, 0.015, 0.013, 0.012, 0.011, 0.01, 0.01, 0.009],
  [0.019, 0.019, 0.02, 0.021, 0.023, 0.026, 0.03, 0.035, 0.041, 0.047, 0.052, 0.055, 0.055, 0.051, 0.044, 0.036, 0.029, 0.023, 0.019, 0.016, 0.014, 0.012, 0.011, 0.01, 0.009, 0.009, 0.008, 0.008],
  [0.012, 0.012, 0.012, 0.013, 0.013, 0.014, 0.015, 0.017, 0.019, 0.022, 0.025, 0.028, 0.031, 0.033, 0.034, 0.033, 0.03, 0.026, 0.022, 0.018, 0.015, 0.013, 0.012, 0.011, 0.01, 0.009, 0.009, 0.009],
  [0.046, 0.046, 0.046, 0.047, 0.049, 0.052, 0.056, 0.061, 0.066, 0.07, 0.072, 0.07, 0.064, 0.055, 0.045, 0.036, 0.029, 0.023, 0.019, 0.016, 0.014, 0.013, 0.012, 0.011, 0.01, 0.01, 0.009, 0.009],
  [0.028, 0.028, 0.029, 0.03, 0.032, 0.035, 0.039, 0.044, 0.05, 0.057, 0.064, 0.07, 0.074, 0.074, 0.069, 0.06, 0.049, 0.039, 0.031, 0.025, 0.02, 0.017, 0.015, 0.013, 0.012, 0.011, 0.01, 0.01],
  [0.005, 0.005, 0.005, 0.005, 0.006, 0.006, 0.007, 0.007, 0.008, 0.009, 0.01, 0.011, 0.012, 0.012, 0.012, 0.011, 0.01, 0.009, 0.008, 0.007, 0.006, 0.006, 0.005, 0.005, 0.005, 0.005, 0.004, 0.004],
  [0.015, 0.015, 0.016, 0.017, 0.019, 0.022, 0.026, 0.031, 0.037, 0.044, 0.051, 0.057, 0.061, 0.062, 0.059, 0.052, 0.043, 0.034, 0.027, 0.021, 0.017, 0.014, 0.012, 0.011, 0.01, 0.009, 0.009, 0.008],
  [0.039, 0.039, 0.04, 0.041, 0.043, 0.046, 0.05, 0.055, 0.06, 0.065, 0.069, 0.071, 0.07, 0.066, 0.058, 0.049, 0.04, 0.032, 0.026, 0.021, 0.018, 0.016, 0.014, 0.013, 0.012, 0.011, 0.011, 0.01],
  [0.01, 0.01, 0.011, 0.012, 0.014, 0.016, 0.019, 0.023, 0.028, 0.034, 0.041, 0.048, 0.054, 0.058, 0.058, 0.055, 0.049, 0.043, 0.037, 0.032, 0.028, 0.025, 0.023, 0.021, 0.02, 0.019, 0.018, 0.017],
  [0.02, 0.02, 0.021, 0.022, 0.024, 0.027, 0.031, 0.036, 0.043, 0.051, 0.06, 0.068, 0.074, 0.076, 0.073, 0.066, 0.057, 0.048, 0.04, 0.034, 0.03, 0.027, 0.025, 0.023, 0.022, 0.021, 0.02, 0.02],
  [0.006, 0.006, 0.007, 0.007, 0.008, 0.009, 0.011, 0.013, 0.016, 0.02, 0.025, 0.031, 0.038, 0.045, 0.05, 0.052, 0.05, 0.045, 0.039, 0.033, 0.028, 0.024, 0.021, 0.019, 0.017, 0.016, 0.015, 0.014],
  [0.016, 0.016, 0.017, 0.018, 0.019, 0.021, 0.023, 0.026, 0.03, 0.035, 0.041, 0.047, 0.053, 0.058, 0.062, 0.064, 0.063, 0.059, 0.053, 0.046, 0.04, 0.035, 0.031, 0.028, 0.026, 0.025, 0.024, 0.023],
  [0.02, 0.021, 0.023, 0.026, 0.031, 0.038, 0.048, 0.062, 0.08, 0.1, 0.118, 0.128, 0.125, 0.108, 0.084, 0.06, 0.042, 0.03, 0.022, 0.017, 0.014, 0.012, 0.011, 0.01, 0.009, 0.009, 0.008, 0.008],
  [0.035, 0.037, 0.04, 0.045, 0.052, 0.062, 0.076, 0.094, 0.114, 0.132, 0.142, 0.138, 0.12, 0.094, 0.068, 0.047, 0.033, 0.024, 0.018, 0.015, 0.013, 0.011, 0.01, 0.009, 0.009, 0.008, 0.008, 0.007],
  [0.01, 0.01, 0.011, 0.013, 0.015, 0.019, 0.024, 0.032, 0.043, 0.058, 0.076, 0.096, 0.115, 0.128, 0.13, 0.118, 0.095, 0.07, 0.049, 0.034, 0.025, 0.019, 0.015, 0.013, 0.011, 0.01, 0.01, 0.009],
  [0.025, 0.026, 0.028, 0.031, 0.035, 0.041, 0.05, 0.062, 0.077, 0.093, 0.107, 0.115, 0.113, 0.102, 0.084, 0.065, 0.048, 0.035, 0.026, 0.02, 0.016, 0.014, 0.012, 0.011, 0.01, 0.009, 0.009, 0.008],
  [0.015, 0.015, 0.016, 0.018, 0.021, 0.025, 0.031, 0.04, 0.052, 0.068, 0.088, 0.11, 0.13, 0.142, 0.14, 0.122, 0.094, 0.066, 0.045, 0.031, 0.023, 0.018, 0.015, 0.013, 0.011, 0.01, 0.01, 0.009],
  [0.04, 0.042, 0.045, 0.05, 0.058, 0.069, 0.083, 0.1, 0.118, 0.13, 0.13, 0.118, 0.097, 0.074, 0.053, 0.038, 0.028, 0.021, 0.017, 0.014, 0.012, 0.011, 0.01, 0.009, 0.009, 0.008, 0.008, 0.007],
  [0.018, 0.018, 0.019, 0.021, 0.024, 0.028, 0.034, 0.042, 0.053, 0.066, 0.08, 0.093, 0.101, 0.1, 0.09, 0.074, 0.057, 0.042, 0.031, 0.023, 0.018, 0.015, 0.013, 0.011, 0.01, 0.01, 0.009, 0.009],
  [0.012, 0.012, 0.013, 0.014, 0.016, 0.019, 0.023, 0.029, 0.037, 0.048, 0.062, 0.079, 0.098, 0.116, 0.128, 0.13, 0.118, 0.095, 0.07, 0.049, 0.034, 0.025, 0.019, 0.016, 0.014, 0.012, 0.011, 0.01],
];

const FONT = '"Liberation Sans", Arial, Helvetica, sans-serif';
const X_DOMAIN = [-10.35, 19.35];
const Y_DOMAIN = [-0.0275, 0.5775];

function toRows(lines: (number | null)[][]) {
  return steps.map((t, i) => {
    const row: Record<string, number | null> = { t };
    lines.forEach((l, j) => {
      row['s' + j] = l[i] ?? null;
    });
    return row;
  });
}

const fmtX = (v: number) => (v < 0 ? '\u2212' + Math.abs(v) : String(v));

function Panel({ lines, showY, width, left }: { lines: (number | null)[][]; showY: boolean; width: number; left: number }) {
  const rows = toRows(lines);
  return (
    <LineChart width={width} height={559} data={rows} margin={{ top: 67, right: 0, bottom: 0, left }}>
      <CartesianGrid
        fill="#EBEBEB"
        fillOpacity={1}
        stroke="#FFFFFF"
        strokeWidth={0.55}
        horizontalValues={yMinor}
        verticalValues={xMinor}
      />
      <CartesianGrid stroke="#FFFFFF" strokeWidth={1.1} horizontalValues={yTicks} verticalValues={xTicks} />
      <XAxis
        dataKey="t"
        type="number"
        domain={X_DOMAIN}
        allowDataOverflow
        ticks={xTicks}
        interval={0}
        tickFormatter={fmtX}
        height={68}
        axisLine={false}
        tickLine={{ stroke: '#333333', strokeWidth: 1 }}
        tickSize={4}
        tickMargin={6}
        tick={{ fill: '#4D4D4D', fontSize: 22, fontFamily: FONT }}
      />
      {showY ? (
        <YAxis
          type="number"
          domain={Y_DOMAIN}
          allowDataOverflow
          ticks={yTicks}
          interval={0}
          tickFormatter={(v: number) => v.toFixed(1)}
          width={98}
          axisLine={false}
          tickLine={{ stroke: '#333333', strokeWidth: 1 }}
          tickSize={4}
          tickMargin={3}
          tick={{ fill: '#4D4D4D', fontSize: 22, fontFamily: FONT }}
        />
      ) : (
        <YAxis type="number" domain={Y_DOMAIN} allowDataOverflow hide width={0} />
      )}
      {lines.map((_, j) => (
        <Line
          key={j}
          type="linear"
          dataKey={'s' + j}
          stroke="#000000"
          strokeWidth={1.2}
          dot={false}
          activeDot={false}
          isAnimationActive={false}
        />
      ))}
    </LineChart>
  );
}

const stripStyle = (left: number): React.CSSProperties => ({
  position: 'absolute',
  left,
  top: 27,
  width: 305,
  height: 40,
  background: '#D9D9D9',
  color: '#1A1A1A',
  fontFamily: FONT,
  fontSize: 26,
  display: 'flex',
  alignItems: 'center',
  justifyContent: 'center',
});

export default function App() {
  return (
    <div style={{ position: 'absolute', left: 0, top: 0, width: 718, height: 559, background: '#fff', overflow: 'hidden' }}>
      <svg width={718} height={559} style={{ position: 'absolute', left: 0, top: 0 }}>
        <line x1={11.5} y1={12} x2={11.5} y2={559} stroke="#333" strokeWidth={1} />
        <line x1={11} y1={12.5} x2={718} y2={12.5} stroke="#333" strokeWidth={1} />
        <text x={406} y={542} textAnchor="middle" fontSize={28} fontFamily={FONT} fill="#000">
          Time step
        </text>
        <text
          x={0}
          y={0}
          transform="translate(49,279) rotate(-90)"
          textAnchor="middle"
          fontSize={27}
          fontFamily={FONT}
          fill="#000"
        >
          Nasal energy
        </text>
      </svg>
      <div style={{ position: 'absolute', left: 0, top: 0 }}>
        <Panel lines={cvcLines} showY width={403} left={0} />
      </div>
      <div style={{ position: 'absolute', left: 381, top: 0 }}>
        <Panel lines={cvnLines} showY={false} width={335} left={30} />
      </div>
      <div style={stripStyle(98)}>{panels[0]}</div>
      <div style={stripStyle(411)}>{panels[1]}</div>
    </div>
  );
}
